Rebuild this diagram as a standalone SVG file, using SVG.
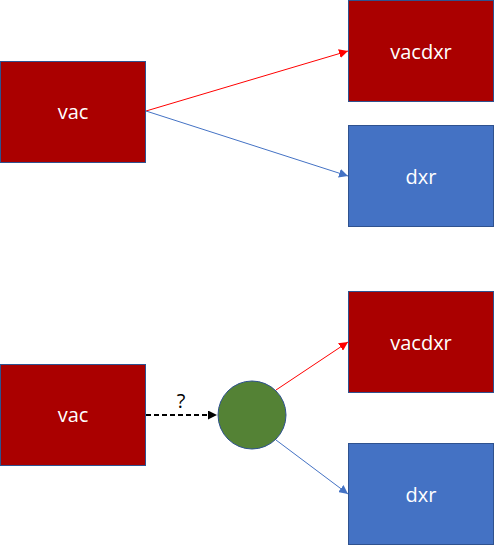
<svg xmlns="http://www.w3.org/2000/svg" width="494" height="546" viewBox="0 0 494 546">
<style>
.red{fill:#AA0000;stroke:#2F528F;stroke-width:1}
.blue{fill:#4472C4;stroke:#2F528F;stroke-width:1}
.lbl{font-family:"Open Sans","Noto Sans",sans-serif;font-size:20px;fill:#fff;text-anchor:middle;dominant-baseline:central}
.r{stroke:#FF0000;stroke-width:1;fill:none}
.b{stroke:#4472C4;stroke-width:1;fill:none}
</style>
<defs>
<marker id="ar" viewBox="0 0 10 10" refX="10" refY="5" markerWidth="9" markerHeight="9" markerUnits="userSpaceOnUse" orient="auto"><path d="M0,0L10,5L0,10z" fill="#FF0000"/></marker>
<marker id="ab" viewBox="0 0 10 10" refX="10" refY="5" markerWidth="9" markerHeight="9" markerUnits="userSpaceOnUse" orient="auto"><path d="M0,0L10,5L0,10z" fill="#4472C4"/></marker>
<marker id="ak" viewBox="0 0 10 10" refX="10" refY="5" markerWidth="9" markerHeight="9" markerUnits="userSpaceOnUse" orient="auto"><path d="M0,0L10,5L0,10z" fill="#000"/></marker>
</defs>
<rect width="494" height="546" fill="#fff"/>
<g id="connectors">
<line class="r" x1="146" y1="111" x2="348" y2="51" marker-end="url(#ar)"/>
<line class="b" x1="146" y1="111" x2="348" y2="176" marker-end="url(#ab)"/>
<line x1="146" y1="415" x2="217" y2="415" stroke="#000" stroke-width="2" stroke-dasharray="5,3" marker-end="url(#ak)"/>
<text x="181" y="400" font-family="'Open Sans','Noto Sans',sans-serif" font-size="20" fill="#000" text-anchor="middle" dominant-baseline="central">?</text>
<line class="r" x1="276" y1="390" x2="348" y2="342" marker-end="url(#ar)"/>
<line class="b" x1="276" y1="440" x2="348" y2="494" marker-end="url(#ab)"/>
</g>
<g id="vac1"><rect class="red" x="0.5" y="61.5" width="145" height="101"/><text class="lbl" x="73" y="111">vac</text></g>
<g id="vacdxr1"><rect class="red" x="348.5" y="0.5" width="145" height="101"/><text class="lbl" x="421" y="51">vacdxr</text></g>
<g id="dxr1"><rect class="blue" x="348.5" y="125.5" width="145" height="101"/><text class="lbl" x="421" y="176">dxr</text></g>
<g id="vac2"><rect class="red" x="0.5" y="364.5" width="145" height="101"/><text class="lbl" x="73" y="414">vac</text></g>
<g id="circle"><circle cx="252" cy="415" r="34" fill="#548235" stroke="#2F528F" stroke-width="1"/></g>
<g id="vacdxr2"><rect class="red" x="348.5" y="291.5" width="145" height="101"/><text class="lbl" x="421" y="342">vacdxr</text></g>
<g id="dxr2"><rect class="blue" x="348.5" y="443.5" width="145" height="101"/><text class="lbl" x="421" y="494">dxr</text></g>
</svg>
